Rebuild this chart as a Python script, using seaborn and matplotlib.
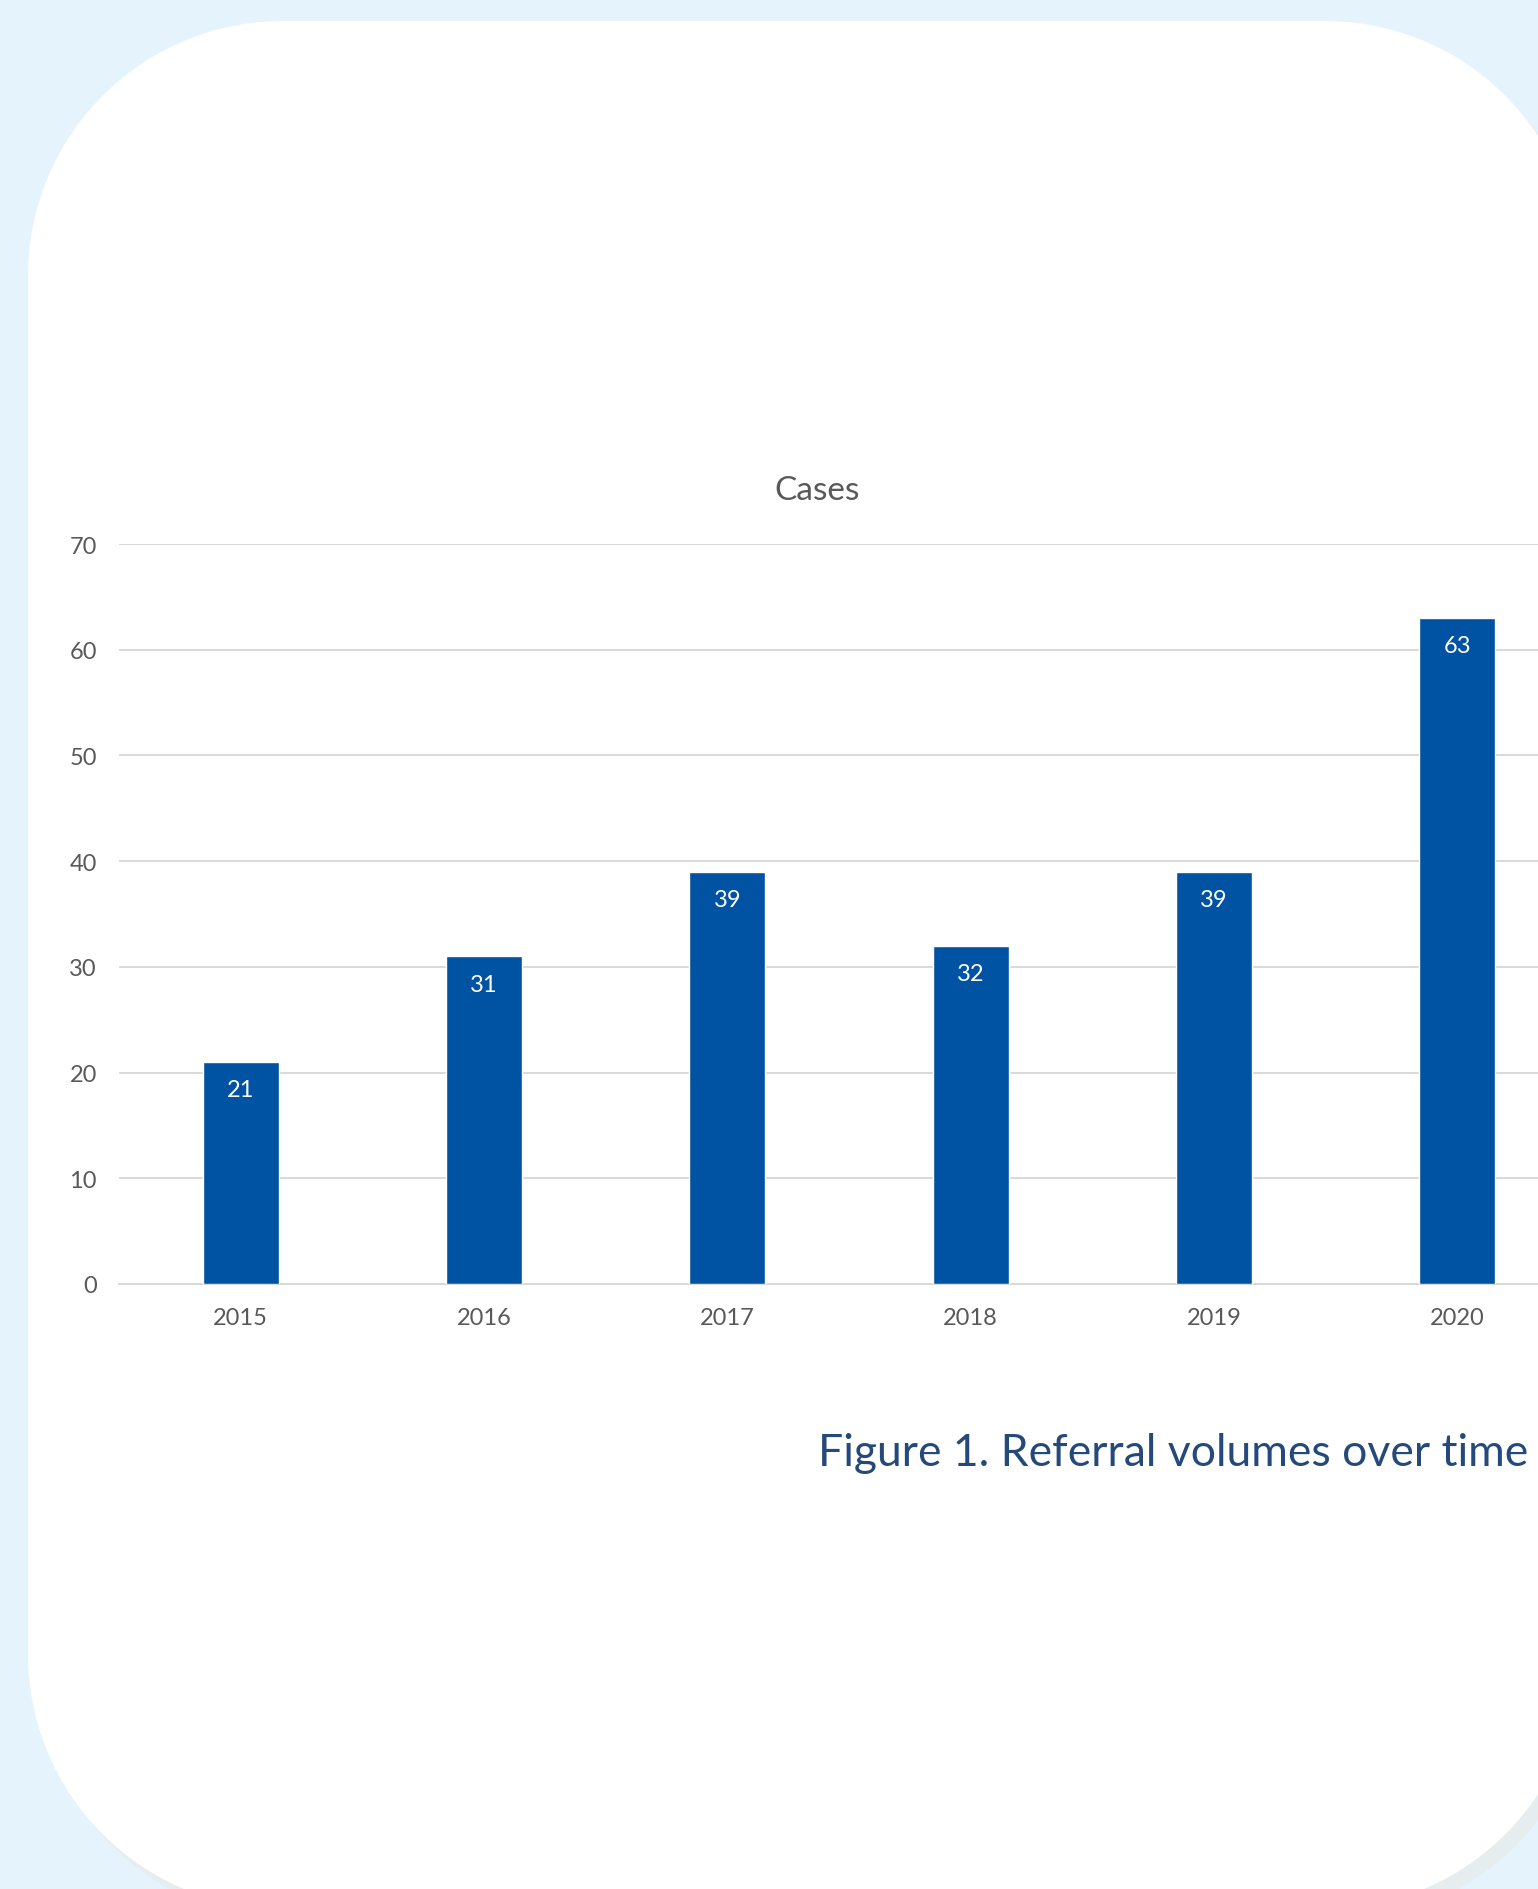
import matplotlib
matplotlib.use("Agg")
import matplotlib.pyplot as plt
from matplotlib.patches import Polygon
import numpy as np
import seaborn as sns
import pandas as pd

# Chart data
years = ["2015", "2016", "2017", "2018", "2019", "2020"]
cases = [21, 31, 39, 32, 39, 63]
y_ticks = [0, 10, 20, 30, 40, 50, 60, 70]

BAR_COLOR = "#0052A2"
GRID_COLOR = "#D9D9D9"
TEXT_GRAY = "#595959"
CAPTION_COLOR = "#24497A"
BG_BLUE = "#E5F3FC"
SHADOW = "#E6EDEF"


def rounded_rect(left, top, right, bottom, r, n=60):
    """Outline of a rectangle with circular corners (y grows downward)."""
    corners = [
        (right - r, top + r, -90, 0),
        (right - r, bottom - r, 0, 90),
        (left + r, bottom - r, 90, 180),
        (left + r, top + r, 180, 270),
    ]
    pts = []
    for cx, cy, a0, a1 in corners:
        t = np.radians(np.linspace(a0, a1, n))
        pts.append(np.column_stack([cx + r * np.cos(t), cy + r * np.sin(t)]))
    return np.vstack(pts)


sns.set_theme(style="white")
plt.rcParams["font.family"] = ["Lato", "DejaVu Sans"]

W, H = 1538, 1890
fig = plt.figure(figsize=(W / 100, H / 100), dpi=100)
fig.patch.set_facecolor(BG_BLUE)

# Background card (white rounded rectangle with a faint shadow), in pixel coords
bg = fig.add_axes([0, 0, 1, 1], zorder=0)
bg.set_xlim(0, W)
bg.set_ylim(H, 0)
bg.axis("off")
bg.add_patch(Polygon(rounded_rect(38, 34, 1590, 1922, 255),
                     closed=True, facecolor=SHADOW, edgecolor="none"))
bg.add_patch(Polygon(rounded_rect(28, 22, 1580, 1910, 255),
                     closed=True, facecolor="white", edgecolor="none"))

# Main chart axes (runs past the right edge, as in the original)
ax = fig.add_axes([119 / W, 605 / H, 1460 / W, 740 / H], zorder=1)
ax.set_facecolor("none")

df = pd.DataFrame({"year": years, "cases": cases})
sns.barplot(data=df, x="year", y="cases", color=BAR_COLOR, saturation=1,
            width=0.312, ax=ax, zorder=3)

ax.set_ylim(0, 70)
ax.set_xlim(-0.5, len(years) - 0.5)
ax.set_yticks(y_ticks)
ax.yaxis.grid(True, color=GRID_COLOR, linewidth=1.4, zorder=0)
ax.set_axisbelow(True)
for side in ["top", "right", "left"]:
    ax.spines[side].set_visible(False)
ax.spines["bottom"].set_color(GRID_COLOR)
ax.spines["bottom"].set_linewidth(1.4)
ax.tick_params(axis="both", length=0, labelsize=17, labelcolor=TEXT_GRAY)
ax.tick_params(axis="y", pad=16)
ax.tick_params(axis="x", pad=16.5)
ax.set_xlabel("")
ax.set_ylabel("")

# Value labels inside the top of each bar
for patch, val in zip(ax.patches, cases):
    ax.annotate(str(val), (patch.get_x() + patch.get_width() / 2, val),
                xytext=(0, -20), textcoords="offset points",
                ha="center", va="center", color="white", fontsize=17)

fig.text(817 / W, 1 - 491 / H, "Cases", ha="center", va="center",
         fontsize=24, color=TEXT_GRAY)

fig.text(1528 / W, 1 - 1454 / H, "Figure 1. Referral volumes over time",
         ha="right", va="center", fontsize=32, color=CAPTION_COLOR)

fig.savefig("out.png", dpi=100, facecolor=fig.get_facecolor())
